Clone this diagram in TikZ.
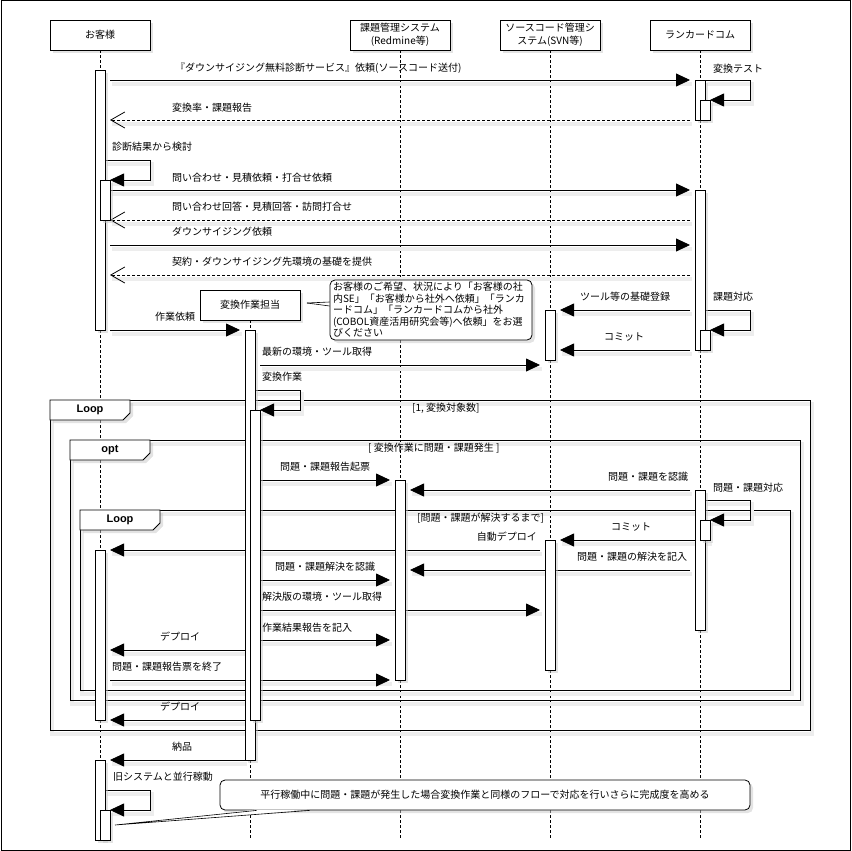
\documentclass[tikz,border=0pt]{standalone}
\usepackage{fontspec}
\setmainfont{Noto Sans CJK JP}
\newfontfamily\latfont{Liberation Sans}
\usetikzlibrary{arrows.meta,shadows}
\tikzset{
  every node/.style={inner sep=0pt, font=\fontsize{10}{12.5}\selectfont},
  shad/.style={preaction={draw=black!7, line width=4pt, solid, -, transform canvas={shift={(2pt,-4pt)}}}},
  box shadow/.style={drop shadow={shadow xshift=3pt, shadow yshift=-3pt, fill=black!22}},
  msg/.style={draw, line width=0.8pt, -{Triangle[length=14pt,width=13pt]}, shad},
  ret/.style={draw, line width=0.8pt, dash pattern=on 3pt off 2pt, -{Straight Barb[length=14pt,width=16pt]}, shad},
  life/.style={draw, line width=0.7pt, dash pattern=on 3pt off 2pt},
  head/.style={draw, fill=white, line width=0.8pt, minimum width=100pt, minimum height=30pt, align=center, box shadow},
  actbar/.style={draw, fill=white, line width=0.8pt, box shadow},
  frm/.style={draw, line width=0.8pt, shad},
  tabshape/.style={draw, fill=white, line width=0.8pt, box shadow},
  tablbl/.style={font=\latfont\bfseries\fontsize{11}{13}\selectfont},
  lbl/.style={text height=8.8pt, text depth=1.2pt},
  notebox/.style={draw, fill=white, rounded corners=5pt, line width=0.8pt, box shadow},
}
\newcommand\mg[5]{\coordinate (#1a) at (#3,#5); \coordinate (#1b) at (#4,#5); \draw[#2] (#1a) -- (#1b);}
\begin{document}
\begin{tikzpicture}[x=1pt,y=-1pt]
\useasboundingbox (0,0) rectangle (851,851);
\draw[line width=1pt] (1,1) rectangle (850,850);

% headers
\node[head] (h1) at (100,35) {お客様};
\node[head] (h2) at (400,35) {課題管理システム\\(Redmine等)};
\node[head] (h3) at (550,35) {ソースコード管理シ\\ステム(SVN等)};
\node[head] (h4) at (700,35) {ランカードコム};
\node[head] (h5) at (250,305) {変換作業担当};

% lifelines
\coordinate (e1) at (100,840); \coordinate (e2) at (400,840);
\coordinate (e3) at (550,840); \coordinate (e4) at (700,840);
\coordinate (e5) at (250,840);
\draw[life] (h1.south) -- (e1);
\draw[life] (h2.south) -- (e2);
\draw[life] (h3.south) -- (e3);
\draw[life] (h4.south) -- (e4);
\draw[life] (h5.south) -- (e5);

% frames
\draw[frm] (50,400) rectangle (810,730);
\draw[tabshape] (50,400) -- (130,400) -- (130,413) -- (123,420) -- (50,420) -- cycle;
\node[tablbl] (f1) at (90,410) {Loop};
\node[lbl,anchor=west] (f1c) at (412,408) {[1, 変換対象数]};

\draw[frm] (70,440) rectangle (800,700);
\draw[tabshape] (70,440) -- (150,440) -- (150,453) -- (143,460) -- (70,460) -- cycle;
\node[tablbl] (f2) at (110,450) {opt};
\node[lbl,anchor=west] (f2c) at (368,448) {[ 変換作業に問題・課題発生 ]};

\draw[frm] (80,510) rectangle (790,690);
\draw[tabshape] (80,510) -- (160,510) -- (160,523) -- (153,530) -- (80,530) -- cycle;
\node[tablbl] (f3) at (120,520) {Loop};
\node[lbl,anchor=west] (f3c) at (417,518) {[問題・課題が解決するまで]};

% messages
\mg{m1}{msg}{110}{690}{80}
\node[lbl,anchor=west] (t1) at (175,68) {『ダウンサイジング無料診断サービス』依頼(ソースコード送付)};
\coordinate (s1a) at (705,80); \coordinate (s1b) at (710,100);
\draw[msg] (s1a) -- (750,80) -- (750,100) -- (s1b);
\node[lbl,anchor=west] (t8) at (713,69) {変換テスト};
\mg{m2}{ret}{690}{110}{120}
\node[lbl,anchor=west] (t2) at (172,108) {変換率・課題報告};
\coordinate (s2a) at (105,160); \coordinate (s2b) at (110,180);
\draw[msg] (s2a) -- (150,160) -- (150,180) -- (s2b);
\node[lbl,anchor=west] (t3) at (112,147) {診断結果から検討};
\mg{m3}{msg}{110}{690}{190}
\node[lbl,anchor=west] (t4) at (172,178) {問い合わせ・見積依頼・打合せ依頼};
\mg{m4}{ret}{690}{110}{220}
\node[lbl,anchor=west] (t5) at (172,207) {問い合わせ回答・見積回答・訪問打合せ};
\mg{m5}{msg}{110}{690}{245}
\node[lbl,anchor=west] (t6) at (172,232) {ダウンサイジング依頼};
\mg{m6}{ret}{690}{110}{275}
\node[lbl,anchor=west] (t7) at (172,262) {契約・ダウンサイジング先環境の基礎を提供};

\coordinate (s3a) at (705,310); \coordinate (s3b) at (710,330);
\draw[msg] (s3a) -- (750,310) -- (750,330) -- (s3b);
\node[lbl,anchor=west] (t9) at (713,297) {課題対応};
\mg{m7}{msg}{690}{560}{310}
\node[lbl] (t10) at (625,297) {ツール等の基礎登録};
\mg{m8}{msg}{690}{560}{350}
\node[lbl] (t11) at (624,337) {コミット};
\mg{m9}{msg}{110}{240}{330}
\node[lbl] (t12) at (175,317) {作業依頼};
\mg{m10}{msg}{260}{540}{365}
\node[lbl,anchor=west] (t13) at (262,352) {最新の環境・ツール取得};
\coordinate (s4a) at (255,390); \coordinate (s4b) at (260,410);
\draw[msg] (s4a) -- (300,390) -- (300,410) -- (s4b);
\node[lbl,anchor=west] (t14) at (262,377) {変換作業};

\mg{m11}{msg}{260}{390}{480}
\node[lbl] (t18) at (325,467) {問題・課題報告起票};
\mg{m12}{msg}{690}{410}{490}
\node[lbl] (t19) at (648,477) {問題・課題を認識};
\coordinate (s5a) at (705,500); \coordinate (s5b) at (710,520);
\draw[msg] (s5a) -- (750,500) -- (750,520) -- (s5b);
\node[lbl,anchor=west] (t20) at (713,488) {問題・課題対応};
\mg{m13}{msg}{710}{560}{540}
\node[lbl] (t21) at (631,527) {コミット};
\mg{m14}{msg}{540}{110}{550}
\node[lbl,anchor=east] (t22) at (537,537) {自動デプロイ};
\mg{m15}{msg}{690}{410}{570}
\node[lbl] (t23) at (632,557) {問題・課題の解決を記入};
\mg{m16}{msg}{260}{390}{580}
\node[lbl] (t24) at (325,567) {問題・課題解決を認識};
\mg{m17}{msg}{260}{540}{610}
\node[lbl,anchor=west] (t25) at (262,597) {解決版の環境・ツール取得};
\mg{m18}{msg}{260}{390}{640}
\node[lbl,anchor=west] (t26) at (262,628) {作業結果報告を記入};
\mg{m19}{msg}{250}{110}{650}
\node[lbl] (t27) at (180,637) {デプロイ};
\mg{m20}{msg}{110}{390}{680}
\node[lbl,anchor=west] (t28) at (112,667) {問題・課題報告票を終了};
\mg{m21}{msg}{255}{110}{720}
\node[lbl] (t29) at (180,707) {デプロイ};
\mg{m22}{msg}{245}{110}{760}
\node[lbl] (t30) at (182,747) {納品};
\coordinate (s6a) at (105,790); \coordinate (s6b) at (110,810);
\draw[msg] (s6a) -- (150,790) -- (150,810) -- (s6b);
\node[lbl,anchor=west] (t31) at (113,777) {旧システムと並行稼動};

% activation bars
\draw[actbar] (95,70) rectangle (105,330);
\draw[actbar] (100,180) rectangle (110,220);
\draw[actbar] (95,550) rectangle (105,720);
\draw[actbar] (95,760) rectangle (105,840);
\draw[actbar] (100,810) rectangle (110,840);
\draw[actbar] (245,330) rectangle (255,760);
\draw[actbar] (250,410) rectangle (260,720);
\draw[actbar] (395,480) rectangle (405,680);
\draw[actbar] (545,310) rectangle (555,360);
\draw[actbar] (545,540) rectangle (555,670);
\draw[actbar] (695,80) rectangle (705,120);
\draw[actbar] (700,100) rectangle (710,120);
\draw[actbar] (695,190) rectangle (705,350);
\draw[actbar] (700,330) rectangle (710,350);
\draw[actbar] (695,490) rectangle (705,630);
\draw[actbar] (700,520) rectangle (710,540);

% notes
\node[notebox, text width=196pt, inner xsep=3pt, inner ysep=0pt, align=left, minimum height=60pt, font=\fontsize{10}{11.5}\selectfont] (n1) at (431,310)
 {お客様のご希望、状況により「お客様の社\\内SE」「お客様から社外へ依頼」「ランカ\\ードコム」「ランカードコムから社外\\(COBOL資産活用研究会等)へ依頼」をお選\\びください};
\coordinate (c1) at (307,303);
\draw[line width=0.6pt] (c1) -- ([yshift=8pt]n1.west);
\draw[line width=0.6pt] (c1) -- ([yshift=4pt]n1.west);

\node[notebox, minimum width=530pt, minimum height=30pt] (n2) at (485,795)
 {平行稼働中に問題・課題が発生した場合変換作業と同様のフローで対応を行いさらに完成度を高める};
\coordinate (c2) at (115,825);
\fill[white] (c2) -- ([xshift=37pt,yshift=0.9pt]n2.south west) -- ([xshift=90pt,yshift=0.9pt]n2.south west) -- cycle;
\draw[line width=0.6pt] ([xshift=37pt]n2.south west) -- (c2) -- ([xshift=90pt]n2.south west);
\end{tikzpicture}
\end{document}
